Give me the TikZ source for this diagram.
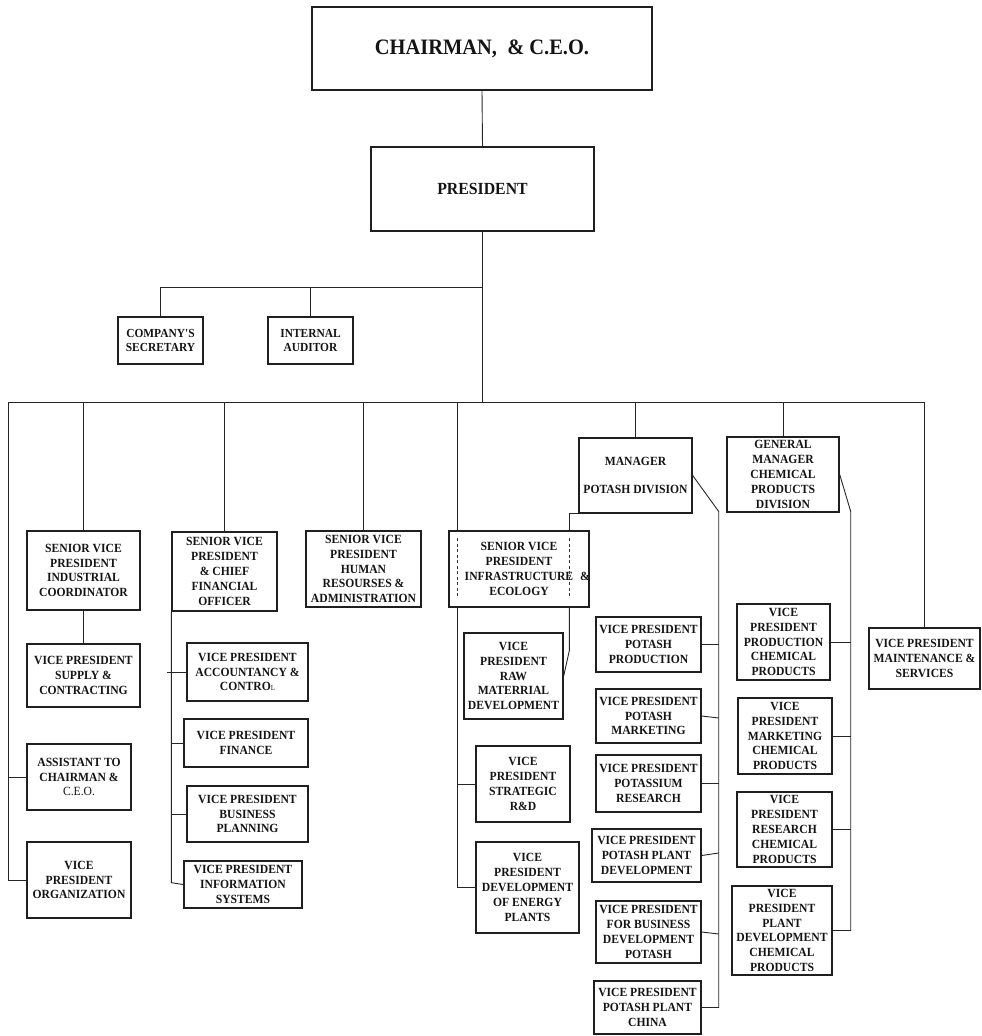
\documentclass[tikz,border=0pt]{standalone}
\usepackage{fontspec}
\setmainfont{Liberation Serif}
\newfontfamily\orgfont[FakeStretch=0.93]{Liberation Serif}
\usetikzlibrary{calc}

% a named box given by its corners (x1,y1) and (x2,y2)
\newcommand{\ob}[7][]{%
  \node[box,#1,minimum width={(#5)-(#3)},minimum height={(#6)-(#4)}]
    (#2) at ({((#3)+(#5))/2},{((#4)+(#6))/2}) {#7};}

\tikzset{
  box/.style={draw=black!88,line width=1.4pt,inner sep=0pt,align=center,
    text=black!92,font=\orgfont\fontsize{12.5}{14.8}\selectfont\bfseries},
  smallbox/.style={font=\orgfont\fontsize{12.3}{14.5}\selectfont\bfseries},
  conn/.style={draw=black!85,line width=0.9pt},
  inner/.style={draw=black!80,line width=0.8pt,dash pattern=on 3pt off 2.5pt},
}

\begin{document}
\begin{tikzpicture}[x=1pt,y=-1pt]
\useasboundingbox (0,0) rectangle (982,1036);

% top management
\ob[font=\orgfont\fontsize{22}{25}\selectfont\bfseries]{chair}{312}{7}{652}{90}{CHAIRMAN,\ \ \& C.E.O.}
\ob[font=\orgfont\fontsize{17}{20}\selectfont\bfseries]{prsd}{371}{147}{594}{231}{PRESIDENT}
\ob[smallbox]{sec}{118}{317}{203}{364}{COMPANY'S\\SECRETARY}
\ob[smallbox]{aud}{268}{317}{353}{364}{INTERNAL\\AUDITOR}

% industrial coordination
\ob{sic}{27}{531}{140}{610}{SENIOR VICE\\PRESIDENT\\INDUSTRIAL\\COORDINATOR}
\ob{supply}{27}{644}{140}{707}{VICE PRESIDENT\\SUPPLY \&\\CONTRACTING}
\ob{assist}{27}{744}{131}{810}{ASSISTANT TO\\CHAIRMAN \&\\{\mdseries C.E.O.}}
\ob{vporg}{27}{842}{131}{918}{VICE\\PRESIDENT\\ORGANIZATION}

% finance
\ob{cfo}{172}{532}{277}{611}{SENIOR VICE\\PRESIDENT\\\& CHIEF\\FINANCIAL\\OFFICER}
\ob{acct}{187}{643}{308}{701}{VICE PRESIDENT\\ACCOUNTANCY \&\\CONTRO{\mdseries\fontsize{7.5}{8}\selectfont L}}
\ob{fin}{184}{719}{308}{767}{VICE PRESIDENT\\FINANCE}
\ob{bplan}{187}{786}{308}{842}{VICE PRESIDENT\\BUSINESS\\PLANNING}
\ob{info}{184}{861}{302}{908}{VICE PRESIDENT\\INFORMATION\\SYSTEMS}

% human resources
\ob{hr}{306}{531}{421}{607}{SENIOR VICE\\PRESIDENT\\HUMAN\\RESOURSES \&\\ADMINISTRATION}

% infrastructure
\ob{infra}{449}{531}{589}{607}{SENIOR VICE\\PRESIDENT\\INFRASTRUCTURE\rlap{\hspace{7pt}\&}\\ECOLOGY}
\ob{raw}{464}{633}{563}{719}{VICE\\PRESIDENT\\RAW\\MATERRIAL\\DEVELOPMENT}
\ob{strat}{476}{746}{570}{822}{VICE\\PRESIDENT\\STRATEGIC\\R\&D}
\ob{energy}{476}{842}{579}{933}{VICE\\PRESIDENT\\DEVELOPMENT\\OF ENERGY\\PLANTS}

% potash division
\ob{mgr}{579}{438}{692}{513}{MANAGER\\[14pt]POTASH DIVISION}
\ob{pprod}{596}{617}{701}{672}{VICE PRESIDENT\\POTASH\\PRODUCTION}
\ob{pmkt}{596}{689}{701}{743}{VICE PRESIDENT\\POTASH\\MARKETING}
\ob{kres}{596}{755}{701}{812}{VICE PRESIDENT\\POTASSIUM\\RESEARCH}
\ob{pplant}{592}{829}{701}{882}{VICE PRESIDENT\\POTASH PLANT\\DEVELOPMENT}
\ob{pbiz}{596}{901}{701}{963}{VICE PRESIDENT\\FOR BUSINESS\\DEVELOPMENT\\POTASH}
\ob{china}{594}{981}{701}{1034}{VICE PRESIDENT\\POTASH PLANT\\CHINA}

% chemical products division
\ob{gm}{727}{437}{839}{512}{GENERAL\\MANAGER\\CHEMICAL\\PRODUCTS\\DIVISION}
\ob{cprod}{737}{604}{830}{680}{VICE\\PRESIDENT\\PRODUCTION\\CHEMICAL\\PRODUCTS}
\ob{cmkt}{738}{698}{832}{774}{VICE\\PRESIDENT\\MARKETING\\CHEMICAL\\PRODUCTS}
\ob{crsch}{737}{792}{832}{867}{VICE\\PRESIDENT\\RESEARCH\\CHEMICAL\\PRODUCTS}
\ob{cplant}{732}{886}{832}{975}{VICE\\PRESIDENT\\PLANT\\DEVELOPMENT\\CHEMICAL\\PRODUCTS}

% maintenance
\ob{maint}{869}{628}{980}{689}{VICE PRESIDENT\\MAINTENANCE \&\\SERVICES}

% ---------------- connectors ----------------
\coordinate (busL) at (8,402);
\coordinate (busR) at (925,402);
\path (prsd.south) ++(0,56) coordinate (junc);

\draw[conn] (chair.south) -- (prsd.north);
\draw[conn] (prsd.south) -- (prsd.south |- busL);
\draw[conn] (sec.north) |- (junc);
\draw[conn] (aud.north) -- (aud.north |- junc);
\draw[conn] (busL) -- (busR);

% left column
\draw[conn] (busL) |- (vporg.west);
\draw[conn] (assist.west) -- (assist.west -| busL);
\draw[conn] (sic.north) -- (sic.north |- busL);
\draw[conn] (sic.south) -- (supply.north);

% finance column
\draw[conn] (cfo.north) -- (cfo.north |- busL);
\draw[conn] (cfo.south west) -- ++(0,271) -- (info.west);
\draw[conn,shorten >=-4pt] (acct.west) -- (acct.west -| cfo.south west);
\draw[conn] (fin.west) -- (fin.west -| cfo.south west);
\draw[conn] (bplan.west) -- (bplan.west -| cfo.south west);

% human resources
\draw[conn] (hr.north) -- (hr.north |- busL);

% infrastructure: two lines run through the box
\path (infra.north west) ++(9,0) coordinate (iLt);
\path (infra.south west) ++(9,0) coordinate (iLb);
\path (infra.north west) ++(121,0) coordinate (iRt);
\path (infra.south west) ++(121,0) coordinate (iRb);
\draw[conn] (iLt |- busL) -- (iLt);
\draw[inner] ([yshift=-8pt]iLt) -- ([yshift=12pt]iLb);
\draw[conn] (iLb) |- (energy.west);
\draw[conn] (strat.west) -- (strat.west -| iLb);
\draw[conn] (mgr.south west) -| (iRt);
\draw[inner] ([yshift=-8pt]iRt) -- ([yshift=12pt]iRb);
\draw[conn] (iRb) -- ++(0,43) -- (raw.east);

% potash division
\draw[conn] (mgr.north) -- (mgr.north |- busL);
\draw[conn] (mgr.east) -- ++(26,36) coordinate (pbus) -- (pbus |- china.east) -- (china.east);
\draw[conn] (pprod.east) -- (pprod.east -| pbus);
\draw[conn] (pmkt.east) -- ($(pmkt.east -| pbus)+(0,2)$);
\draw[conn] (kres.east) -- (kres.east -| pbus);
\draw[conn] (pplant.east) -- ($(pplant.east -| pbus)+(0,-2.5)$);
\draw[conn] (pbiz.east) -- ($(pbiz.east -| pbus)+(0,2)$);

% chemical products division
\draw[conn] (gm.north) -- (gm.north |- busL);
\draw[conn] (gm.east) -- ++(11,37) coordinate (cbus) -- (cbus |- cplant.east) -- (cplant.east);
\draw[conn] (cprod.east) -- (cprod.east -| cbus);
\draw[conn] (cmkt.east) -- (cmkt.east -| cbus);
\draw[conn] (crsch.east) -- (crsch.east -| cbus);

% maintenance
\draw[conn] (maint.north) -- (maint.north |- busR);
\end{tikzpicture}
\end{document}
